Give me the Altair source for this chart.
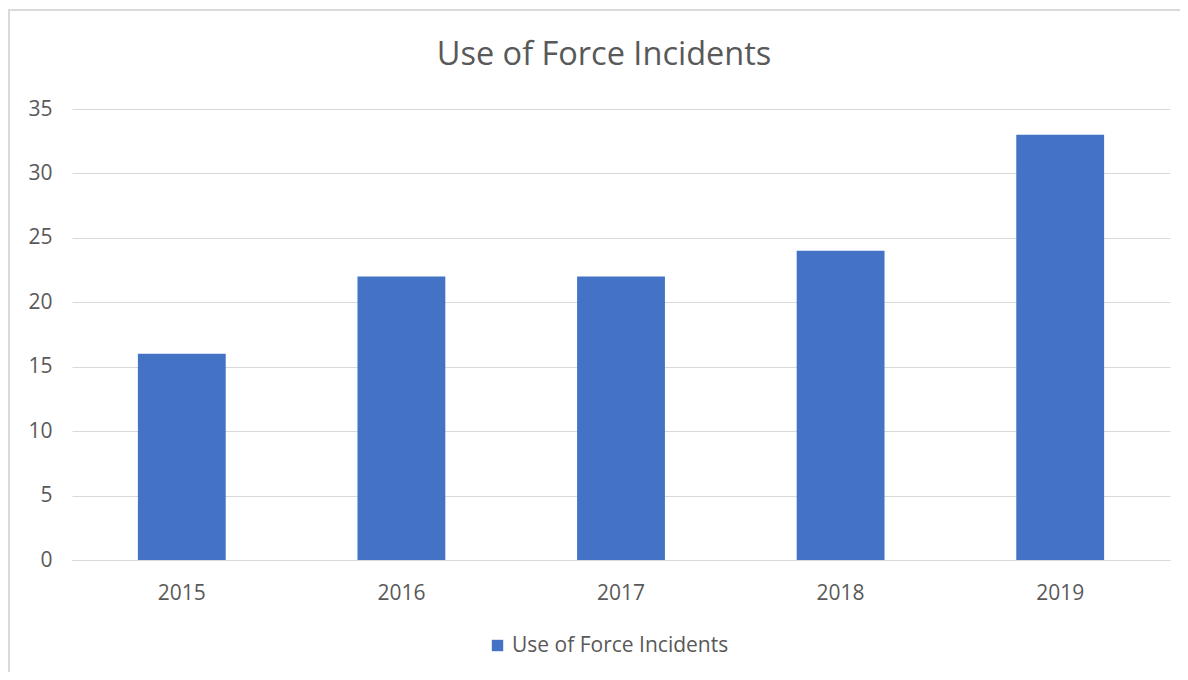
import altair as alt
import pandas as pd

years = ["2015", "2016", "2017", "2018", "2019"]
incidents = [16, 22, 22, 24, 33]
series = "Use of Force Incidents"
title_text = "Use of Force Incidents"

df = pd.DataFrame({"Year": years, "Incidents": incidents, "Series": [series] * len(years)})

FONT = "Open Sans"
GRAY = "#595959"
GRID = "#d9d9d9"

bars = alt.Chart(df).mark_bar(color="#4472c4").encode(
    x=alt.X("Year:N", sort=years,
            scale=alt.Scale(paddingInner=0.6, paddingOuter=0.3),
            axis=alt.Axis(title=None, labelAngle=0, labelFontSize=21, labelColor=GRAY,
                          labelFont=FONT, ticks=False, domain=True, domainColor=GRID,
                          labelPadding=22)),
    y=alt.Y("Incidents:Q", scale=alt.Scale(domain=[0, 35]),
            axis=alt.Axis(title=None, values=[0, 5, 10, 15, 20, 25, 30, 35],
                          labelFontSize=21, labelColor=GRAY, labelFont=FONT,
                          ticks=False, domain=False, gridColor=GRID, labelPadding=20)),
    color=alt.Color("Series:N", scale=alt.Scale(range=["#4472c4"]),
                    legend=alt.Legend(title=None, orient="none", legendX=415, legendY=526,
                                      symbolType="square", symbolSize=130,
                                      labelFontSize=21, labelColor=GRAY, labelFont=FONT,
                                      padding=0, labelOffset=4, labelLimit=400)),
)

title = alt.Chart(alt.Data(values=[{"t": title_text}])).mark_text(
    font=FONT, fontSize=32.5, color=GRAY, align="center", baseline="alphabetic"
).encode(text="t:N", x=alt.value(532), y=alt.value(-44))

border = alt.Chart(alt.Data(values=[{"a": 1}])).mark_rect(
    fill=None, stroke=GRID, strokeWidth=2
).encode(
    x=alt.value(-63), x2=alt.value(1140), y=alt.value(-99), y2=alt.value(600)
)

chart = alt.layer(bars, title, border).properties(
    width=1098,
    height=451,
    autosize=alt.AutoSizeParams(type="none"),
    padding={"left": 64, "top": 101, "right": 10, "bottom": 112},
).configure_view(stroke=None)

chart.save("out.html", embed_options={"renderer": "svg", "actions": False})
